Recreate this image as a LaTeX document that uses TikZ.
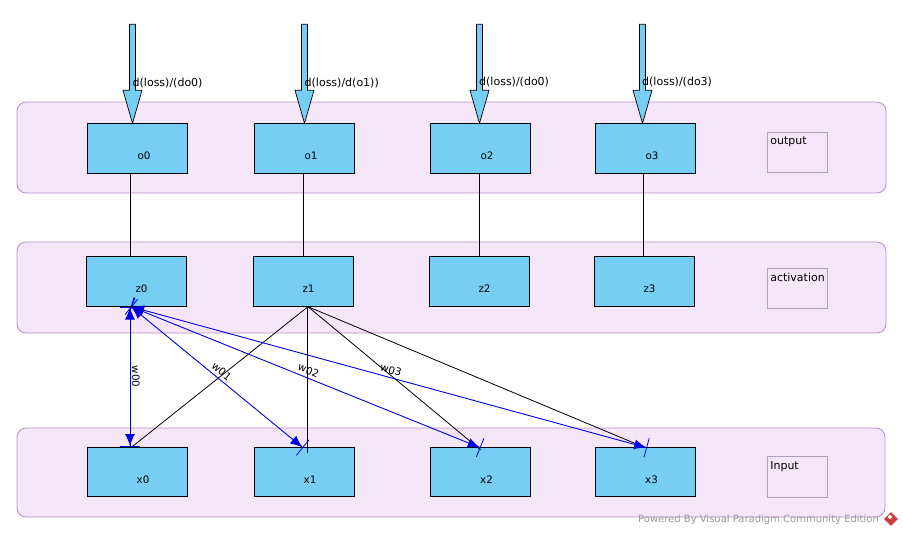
\documentclass[tikz,border=0pt]{standalone}
\usepackage{fontspec}
\setmainfont{DejaVu Sans}
\usetikzlibrary{arrows.meta,shapes.geometric}
\definecolor{cellblue}{HTML}{76CEF5}
\definecolor{groupfill}{HTML}{F5E6FA}
\definecolor{groupline}{HTML}{B98FC9}
\definecolor{tagline}{HTML}{B39DBB}
\definecolor{logored}{HTML}{D03A3A}
\tikzset{
	group/.style={draw=groupline,fill=groupfill,line width=.8pt,rounded corners=9pt},
	cell/.style={draw=black,fill=cellblue,line width=.9pt,minimum width=100pt,minimum height=49.5pt,inner sep=0pt},
	tag/.style={draw=tagline,line width=.8pt,minimum width=60pt,minimum height=40.5pt,inner sep=0pt},
	txt/.style={font=\fontsize{10.3}{12}\selectfont,inner sep=0pt},
	bigtxt/.style={font=\fontsize{11}{13}\selectfont,inner sep=0pt},
	wire/.style={draw=black,line width=.8pt},
	blueedge/.style={draw=blue!90!black,line width=.9pt,allow upside down,
		{Bar[width=20pt,line width=.8pt]Latex[length=12pt,width=10pt]}-{Latex[length=12pt,width=10pt]Bar[width=20pt,line width=.8pt]}},
	wlabel/.style={txt,sloped}
}
\begin{document}
\begin{tikzpicture}[x=1pt,y=-1pt]
	\useasboundingbox (0,0) rectangle (903,536);
	%Groups
	\path[group] (17,102) rectangle (886,193);
	\path[group] (17,242) rectangle (886,333);
	\path[group] (17,428) rectangle (885,517);
	\node[tag,label={[bigtxt,anchor=north west,xshift=3pt,yshift=-5pt]north west:output}] (tago) at (797.5,152.5) {};
	\node[tag,label={[bigtxt,anchor=north west,xshift=3pt,yshift=-5pt]north west:activation}] (tagz) at (797.5,288.5) {};
	\node[tag,label={[bigtxt,anchor=north west,xshift=3pt,yshift=-5pt]north west:Input}] (tagx) at (797.5,477) {};
	%Boxes
	\foreach \n/\p in {o0/137,o1/304,o2/480,o3/645}
		\node[cell,label={[txt,xshift=7pt,yshift=-7.5pt]center:\n}] (\n) at (\p,148.5) {};
	\foreach \n/\p in {z0/136,z1/303,z2/479,z3/644}
		\node[cell,label={[txt,xshift=5.5pt,yshift=-7.5pt]center:\n}] (\n) at (\p,281.5) {};
	\foreach \n/\p in {x0/137,x1/304,x2/480.5,x3/645.5}
		\node[cell,label={[txt,xshift=6pt,yshift=-7.5pt]center:\n}] (\n) at (\p,472) {};
	%Big arrows
	\def\A{ -- ++(9.5,-33) -- ++(-6.5,0) -- ++(0,-66) -- ++(-6,0) -- ++(0,66) -- ++(-6.5,0) -- cycle;}
	\draw[fill=cellblue,line width=.7pt] ([xshift=-4.5pt]o0.north) \A
	\draw[fill=cellblue,line width=.7pt] ([xshift=.5pt]o1.north) \A
	\draw[fill=cellblue,line width=.7pt] ([xshift=-.5pt]o2.north) \A
	\draw[fill=cellblue,line width=.7pt] ([xshift=-2.5pt]o3.north) \A
	\node[bigtxt,anchor=west] (d0) at (132.5,83) {d(loss)/(do0)};
	\node[bigtxt,anchor=west] (d1) at (304.5,83) {d(loss)/d(o1))};
	\node[bigtxt,anchor=west] (d2) at (479,82) {d(loss)/(do0)};
	\node[bigtxt,anchor=west] (d3) at (642,82) {d(loss)/(do3)};
	%Output to activation
	\draw[wire] ([xshift=-7pt]o0.south) -- ([xshift=-6pt]z0.north);
	\draw[wire] ([xshift=-.5pt]o1.south) -- ([xshift=.5pt]z1.north);
	\draw[wire] ([xshift=-1pt]o2.south) -- (z2.north);
	\draw[wire] ([xshift=-2pt]o3.south) -- ([xshift=-1pt]z3.north);
	%Black lines from z1
	\draw[wire] ([xshift=5pt]z1.south) -- ([xshift=-5pt]x0.north);
	\draw[wire] ([xshift=4pt]z1.south) -- ([xshift=3pt,yshift=-6pt]x1.north);
	\draw[wire] ([xshift=5pt]z1.south) -- ([yshift=-3pt]x2.north);
	\draw[wire] ([xshift=5pt]z1.south) -- ([yshift=-1pt]x3.north);
	%Blue lines from z0
	\draw[blueedge] ([xshift=-6pt]z0.south) -- node[wlabel,above=1.5pt,pos=.5] {w00} ([xshift=-7pt]x0.north);
	\draw[blueedge] ([xshift=-5pt]z0.south) -- node[wlabel,above=3pt,pos=.5] {w01} ([xshift=-1pt,yshift=-1pt]x1.north);
	\draw[blueedge] ([xshift=-5pt]z0.south) -- node[wlabel,above=3pt,pos=.5] {w02} ([yshift=-1pt]x2.north);
	\draw[blueedge] ([xshift=-5pt]z0.south) -- node[wlabel,above=3pt,pos=.5] {w03} ([xshift=1.5pt,yshift=-1pt]x3.north);
	%Watermark
	\node[txt,font=\fontsize{10}{12}\selectfont,anchor=west,text=gray!80] (mark) at (638,519.5) {Powered By Visual Paradigm Community Edition};
	\node[diamond,fill=logored,minimum size=14pt,inner sep=0pt] (logo) at (891,519) {};
	\node[diamond,fill=white,minimum size=5pt,inner sep=0pt] (logoin) at (890,517) {};
\end{tikzpicture}
\end{document}
